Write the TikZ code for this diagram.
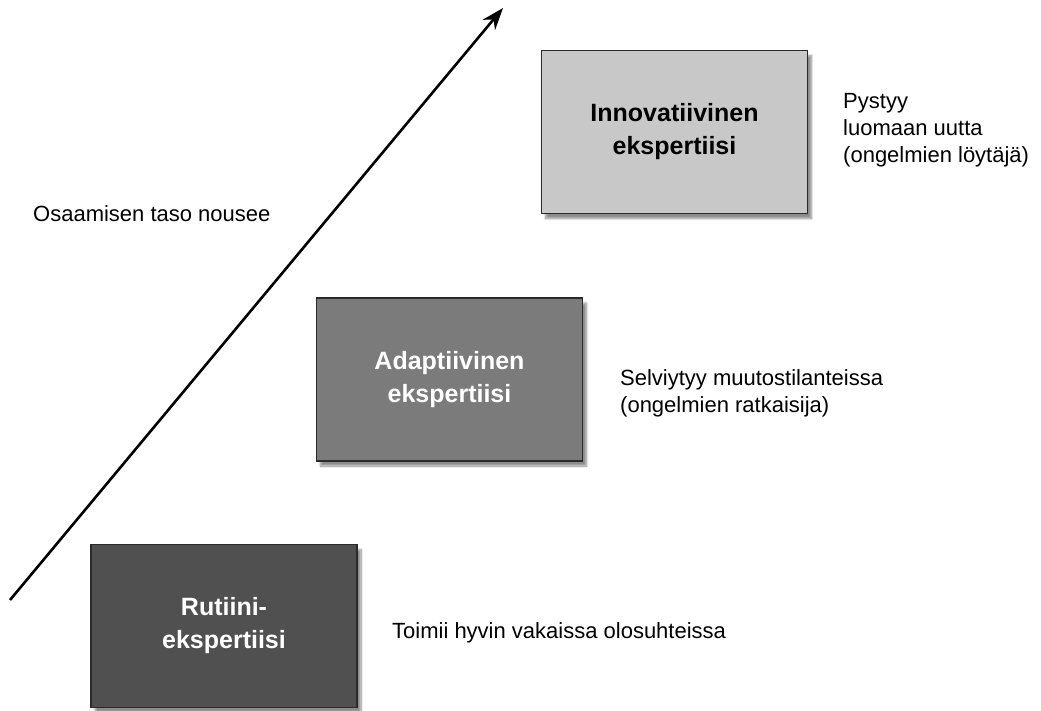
\documentclass[tikz,border=0pt]{standalone}
\usepackage{fontspec}
\setmainfont{Liberation Sans}
\usetikzlibrary{arrows.meta,shadows.blur}
\definecolor{boxlight}{HTML}{C8C8C8}
\definecolor{boxmid}{HTML}{7B7B7B}
\definecolor{boxdark}{HTML}{505050}
\definecolor{edgecol}{HTML}{2A2A2A}
\tikzset{
  levelbox/.style={draw=edgecol, line width=1.8pt, minimum width=266pt, minimum height=163pt,
    inner sep=0pt, align=center, font=\fontsize{25}{33}\selectfont\bfseries,
    blur shadow={shadow xshift=4pt, shadow yshift=-5pt, shadow blur steps=8, shadow opacity=45}},
  desc/.style={anchor=north west, inner sep=0pt, align=left, font=\fontsize{22}{27}\selectfont},
  rise/.style={line width=2.6pt, -{Stealth[length=22pt,width=16pt]}}
}
\begin{document}
\begin{tikzpicture}[x=1pt,y=-1pt]
\useasboundingbox (0,0) rectangle (1041,710);
\node[levelbox, fill=boxlight, text=black] (inno) at (674.5,132) {Innovatiivinen\\ekspertiisi};
\node[levelbox, fill=boxmid, text=white] (adap) at (449.5,379.5) {Adaptiivinen\\ekspertiisi};
\node[levelbox, fill=boxdark, text=white] (rut) at (224,626) {Rutiini-\\ekspertiisi};
\node[desc] (dinno) at (843,93) {Pystyy\\luomaan uutta\\(ongelmien löytäjä)};
\node[desc] (dadap) at (620,369) {Selviytyy muutostilanteissa\\(ongelmien ratkaisija)};
\node[desc] (drut) at (392,622) {Toimii hyvin vakaissa olosuhteissa};
\node[anchor=base west, inner sep=0pt, font=\fontsize{22}{27}\selectfont] (level) at (33,221) {Osaamisen taso nousee};
\coordinate (a0) at (10,600);
\coordinate (a1) at (503,8);
\draw[rise] (a0) -- (a1);
\end{tikzpicture}
\end{document}
